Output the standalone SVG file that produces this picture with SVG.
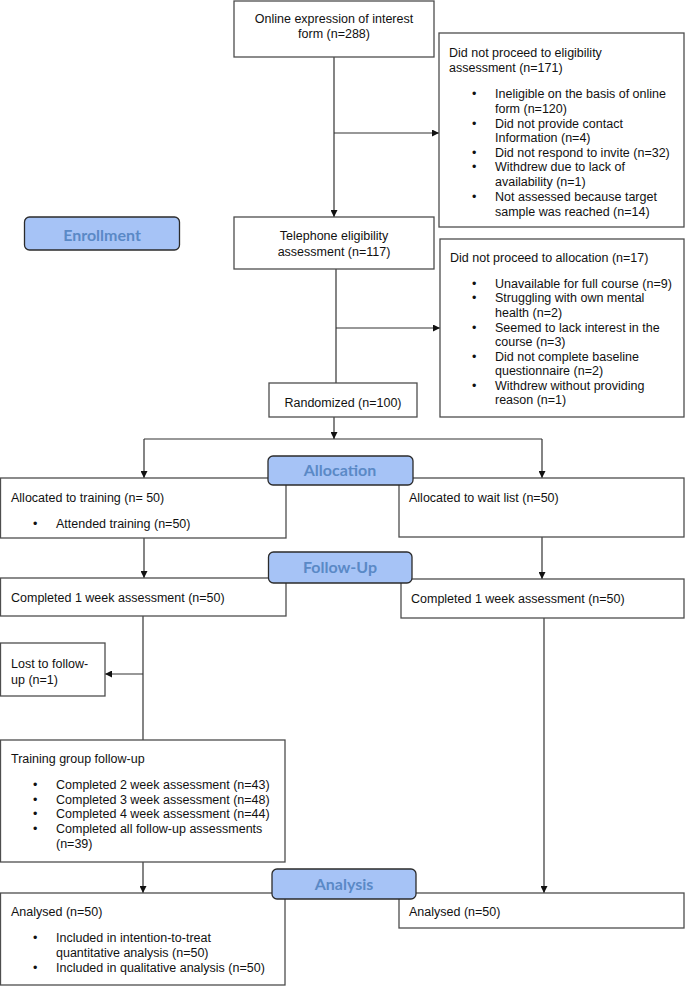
<svg xmlns="http://www.w3.org/2000/svg" width="685" height="986" viewBox="0 0 685 986">
<style>
.box{fill:#fff;stroke:#4d4d4d;stroke-width:1.3}
.ph{fill:#a6c3f6;stroke:#2b2b2b;stroke-width:1.3}
.t{font-family:"Liberation Sans",Arial,sans-serif;font-size:12.5px;fill:#111}
.c{text-anchor:middle}
.pt{font-family:Lato,"Liberation Sans",sans-serif;font-weight:bold;font-size:16px;fill:#5a89c6;text-anchor:middle}
.ln{fill:none;stroke:#333;stroke-width:1.2}
</style>
<defs>
<marker id="ah" viewBox="0 0 10 10" refX="10" refY="5" markerWidth="7" markerHeight="7" markerUnits="userSpaceOnUse" orient="auto">
<path d="M0,0 L10,5 L0,10 z" fill="#111"/>
</marker>
</defs>
<rect width="685" height="986" fill="#fff"/>

<g id="connectors">
<path class="ln" d="M334,57 V217" marker-end="url(#ah)"/>
<path class="ln" d="M334,133 H439" marker-end="url(#ah)"/>
<path class="ln" d="M336,269 V383"/>
<path class="ln" d="M336,328 H440" marker-end="url(#ah)"/>
<path class="ln" d="M334,417 V439" marker-end="url(#ah)"/>
<path class="ln" d="M144,439 H542"/>
<path class="ln" d="M144,439 V478" marker-end="url(#ah)"/>
<path class="ln" d="M542,439 V478" marker-end="url(#ah)"/>
<path class="ln" d="M144,538 V578" marker-end="url(#ah)"/>
<path class="ln" d="M542,537 V579" marker-end="url(#ah)"/>
<path class="ln" d="M143,616 V740"/>
<path class="ln" d="M143,674 H105" marker-end="url(#ah)"/>
<path class="ln" d="M143,862 V893" marker-end="url(#ah)"/>
<path class="ln" d="M544,618 V893" marker-end="url(#ah)"/>
</g>

<g id="online">
<rect class="box" x="234" y="1" width="200" height="56"/>
<text class="t c" x="334" y="22.5">Online expression of interest</text>
<text class="t c" x="334" y="37.5">form (n=288)</text>
</g>

<g id="excl1">
<rect class="box" x="439" y="33" width="245" height="194"/>
<text class="t" x="449" y="56.5">Did not proceed to eligibility</text>
<text class="t" x="449" y="71.5">assessment (n=171)</text>
<text class="t" x="472" y="97.5">•</text>
<text class="t" x="495" y="97.5">Ineligible on the basis of online</text>
<text class="t" x="495" y="112.5">form (n=120)</text>
<text class="t" x="472" y="127.5">•</text>
<text class="t" x="495" y="127.5">Did not provide contact</text>
<text class="t" x="495" y="141.5">Information (n=4)</text>
<text class="t" x="472" y="156.5">•</text>
<text class="t" x="495" y="156.5">Did not respond to invite (n=32)</text>
<text class="t" x="472" y="170.5">•</text>
<text class="t" x="495" y="170.5">Withdrew due to lack of</text>
<text class="t" x="495" y="185.5">availability (n=1)</text>
<text class="t" x="472" y="200.5">•</text>
<text class="t" x="495" y="200.5">Not assessed because target</text>
<text class="t" x="495" y="215.5">sample was reached (n=14)</text>
</g>

<g id="telephone">
<rect class="box" x="234" y="217" width="200" height="52"/>
<text class="t c" x="334" y="239.5">Telephone eligibility</text>
<text class="t c" x="334" y="255.5">assessment (n=117)</text>
</g>

<g id="excl2">
<rect class="box" x="440" y="239" width="244" height="178"/>
<text class="t" x="450" y="261.5">Did not proceed to allocation (n=17)</text>
<text class="t" x="472" y="287.5">•</text>
<text class="t" x="495" y="287.5">Unavailable for full course (n=9)</text>
<text class="t" x="472" y="301.5">•</text>
<text class="t" x="495" y="301.5">Struggling with own mental</text>
<text class="t" x="495" y="316.5">health (n=2)</text>
<text class="t" x="472" y="331.5">•</text>
<text class="t" x="495" y="331.5">Seemed to lack interest in the</text>
<text class="t" x="495" y="345.5">course (n=3)</text>
<text class="t" x="472" y="360.5">•</text>
<text class="t" x="495" y="360.5">Did not complete baseline</text>
<text class="t" x="495" y="374.5">questionnaire (n=2)</text>
<text class="t" x="472" y="389.5">•</text>
<text class="t" x="495" y="389.5">Withdrew without providing</text>
<text class="t" x="495" y="403.5">reason (n=1)</text>
</g>

<g id="randomized">
<rect class="box" x="269" y="383" width="148" height="34"/>
<text class="t c" x="343" y="406.5">Randomized (n=100)</text>
</g>

<g id="alloc-training">
<rect class="box" x="0.5" y="478" width="285.5" height="60"/>
<text class="t" x="11" y="501.5">Allocated to training (n= 50)</text>
<text class="t" x="33" y="527.5">•</text>
<text class="t" x="56" y="527.5">Attended training (n=50)</text>
</g>

<g id="alloc-wait">
<rect class="box" x="399" y="478" width="285" height="59"/>
<text class="t" x="409" y="501.5">Allocated to wait list (n=50)</text>
</g>

<g id="fu-left">
<rect class="box" x="0.5" y="578" width="285.5" height="38"/>
<text class="t" x="11" y="601.5">Completed 1 week assessment (n=50)</text>
</g>

<g id="fu-right">
<rect class="box" x="401" y="579" width="283" height="39"/>
<text class="t" x="411" y="602.5">Completed 1 week assessment (n=50)</text>
</g>

<g id="lost">
<rect class="box" x="0.5" y="643" width="104.5" height="53"/>
<text class="t" x="11" y="667.5">Lost to follow-</text>
<text class="t" x="11" y="683.5">up (n=1)</text>
</g>

<g id="training-fu">
<rect class="box" x="0.5" y="740" width="284.5" height="122"/>
<text class="t" x="11" y="762.5">Training group follow-up</text>
<text class="t" x="33" y="788.5">•</text>
<text class="t" x="56" y="788.5">Completed 2 week assessment (n=43)</text>
<text class="t" x="33" y="803.5">•</text>
<text class="t" x="56" y="803.5">Completed 3 week assessment (n=48)</text>
<text class="t" x="33" y="817.5">•</text>
<text class="t" x="56" y="817.5">Completed 4 week assessment (n=44)</text>
<text class="t" x="33" y="832.5">•</text>
<text class="t" x="56" y="832.5">Completed all follow-up assessments</text>
<text class="t" x="56" y="847.5">(n=39)</text>
</g>

<g id="analysed-left">
<rect class="box" x="0.5" y="893" width="284.5" height="92"/>
<text class="t" x="11" y="915.5">Analysed (n=50)</text>
<text class="t" x="33" y="941.5">•</text>
<text class="t" x="56" y="941.5">Included in intention-to-treat</text>
<text class="t" x="56" y="956.5">quantitative analysis (n=50)</text>
<text class="t" x="33" y="971.5">•</text>
<text class="t" x="56" y="971.5">Included in qualitative analysis (n=50)</text>
</g>

<g id="analysed-right">
<rect class="box" x="399" y="893" width="285" height="35"/>
<text class="t" x="409" y="915.5">Analysed (n=50)</text>
</g>

<g id="phase-enrollment">
<rect class="ph" x="24.5" y="217" width="155" height="33" rx="5"/>
<text class="pt" x="102" y="240.5">Enrollment</text>
</g>
<g id="phase-allocation">
<rect class="ph" x="268" y="456" width="145" height="29" rx="5"/>
<text class="pt" x="340" y="476">Allocation</text>
</g>
<g id="phase-followup">
<rect class="ph" x="268.5" y="552" width="143.5" height="31" rx="5"/>
<text class="pt" x="340" y="573">Follow-Up</text>
</g>
<g id="phase-analysis">
<rect class="ph" x="272" y="869" width="144" height="30" rx="5"/>
<text class="pt" x="344" y="890">Analysis</text>
</g>
</svg>
